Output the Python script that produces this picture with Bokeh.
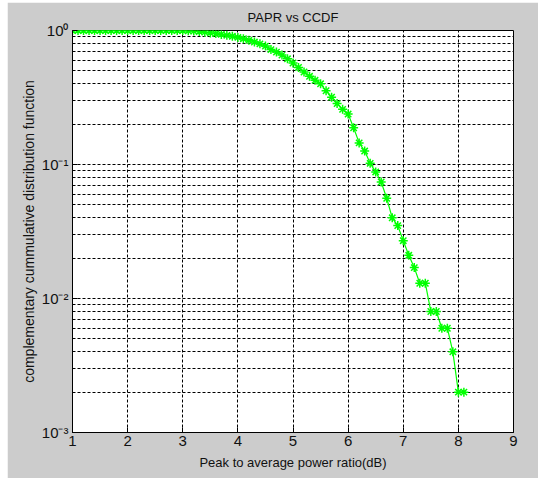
from bokeh.plotting import figure
from bokeh.models import CustomJSTickFormatter, Range1d, FixedTicker, Spacer
from bokeh.layouts import column, row
from bokeh.embed import file_html
from bokeh.resources import INLINE

# Data
papr_db = [1.0, 1.1, 1.2, 1.3, 1.4, 1.5, 1.6, 1.7, 1.8, 1.9,
           2.0, 2.1, 2.2, 2.3, 2.4, 2.5, 2.6, 2.7, 2.8, 2.9,
           3.0, 3.1, 3.2, 3.3, 3.4, 3.5, 3.6, 3.7, 3.8, 3.9,
           4.0, 4.1, 4.2, 4.3, 4.4, 4.5, 4.6, 4.7, 4.8, 4.9,
           5.0, 5.1, 5.2, 5.3, 5.4, 5.5, 5.6, 5.7, 5.8, 5.9,
           6.0, 6.1, 6.2, 6.3, 6.4, 6.5, 6.6, 6.7, 6.8, 6.9,
           7.0, 7.1, 7.2, 7.3, 7.4, 7.5, 7.6, 7.7, 7.8, 7.9,
           8.0, 8.1]
ccdf = [1.0, 1.0, 1.0, 1.0, 1.0, 1.0, 1.0, 1.0, 1.0, 1.0,
        1.0, 1.0, 1.0, 1.0, 1.0, 1.0, 1.0, 1.0, 0.999, 0.999,
        0.998, 0.995, 0.99, 0.982, 0.972, 0.96, 0.948, 0.935, 0.92, 0.905,
        0.888, 0.868, 0.845, 0.82, 0.795, 0.765, 0.72, 0.69, 0.655, 0.615,
        0.572, 0.53, 0.49, 0.455, 0.425, 0.40, 0.355, 0.318, 0.285, 0.258,
        0.238, 0.188, 0.145, 0.126, 0.102, 0.088, 0.074, 0.056, 0.040, 0.035,
        0.027, 0.021, 0.017, 0.013, 0.013, 0.008, 0.008, 0.006, 0.006, 0.004,
        0.002, 0.002]

x_ticks = [1, 2, 3, 4, 5, 6, 7, 8, 9]
y_ticks = [0.001, 0.01, 0.1, 1]
y_minor = [0.002, 0.003, 0.004, 0.005, 0.006, 0.007, 0.008, 0.009,
           0.02, 0.03, 0.04, 0.05, 0.06, 0.07, 0.08, 0.09,
           0.2, 0.3, 0.4, 0.5, 0.6, 0.7, 0.8, 0.9]

FONT = "Liberation Sans"
GRAY = "#cccccc"

p = figure(width=531, height=476, y_axis_type="log",
           x_range=Range1d(1, 9), y_range=Range1d(1e-3, 1),
           output_backend="svg", toolbar_location=None,
           min_border_left=65, min_border_right=25,
           min_border_top=28, min_border_bottom=46,
           background_fill_color="white", border_fill_color=GRAY)

p.title.text = "PAPR vs CCDF"
p.title.align = "center"
p.title.text_font = FONT
p.title.text_font_size = "13px"
p.title.text_font_style = "normal"
p.title.text_color = "#111111"
p.title.standoff = 11
p.title.offset = 0

p.outline_line_color = "black"
p.outline_line_width = 1

# axes
p.xaxis.ticker = FixedTicker(ticks=x_ticks)
p.xaxis.axis_label = "Peak to average power ratio(dB)"
p.yaxis.ticker = FixedTicker(ticks=y_ticks, minor_ticks=y_minor)
p.yaxis.axis_label = "complementary cummulative distribution function"
p.yaxis.formatter = CustomJSTickFormatter(code="""
const sup = {'0':'\u2070','1':'\u00b9','2':'\u00b2','3':'\u00b3','-':'\u207b'};
const e = Math.round(Math.log10(tick));
return '10' + String(e).split('').map(c => sup[c]).join('');
""")

for ax in (p.xaxis[0], p.yaxis[0]):
    ax.axis_line_color = "black"
    ax.major_tick_in = 5
    ax.major_tick_out = 0
    ax.major_tick_line_color = "black"
    ax.minor_tick_in = 0
    ax.minor_tick_out = 0
    ax.major_label_text_font = FONT
    ax.major_label_text_font_size = "15px"
    ax.major_label_text_color = "#111111"
    ax.axis_label_text_font = FONT
    ax.axis_label_text_font_style = "normal"
    ax.axis_label_text_color = "#111111"

p.xaxis.axis_label_text_font_size = "13px"
p.yaxis.axis_label_text_font_size = "14px"
p.xaxis.major_label_standoff = 3
p.xaxis.axis_label_standoff = 6
p.yaxis.major_label_standoff = 4
p.yaxis.axis_label_standoff = 2

# grid
p.xgrid.ticker = FixedTicker(ticks=x_ticks)
p.xgrid.grid_line_color = "black"
p.xgrid.grid_line_dash = "3 2"
p.xgrid.grid_line_width = 1
p.ygrid.ticker = FixedTicker(ticks=y_ticks, minor_ticks=y_minor)
p.ygrid.grid_line_color = "black"
p.ygrid.grid_line_dash = "3 2"
p.ygrid.minor_grid_line_color = "black"
p.ygrid.minor_grid_line_dash = "3 2"

# data
p.line(papr_db, ccdf, line_color="#00ff00", line_width=1.2)
p.scatter(papr_db, ccdf, marker="asterisk", size=9,
          line_color="#00ff00", line_width=1.5)

layout = column(Spacer(height=2), row(Spacer(width=7), p))
open("out.html", "w").write(file_html(layout, INLINE))
